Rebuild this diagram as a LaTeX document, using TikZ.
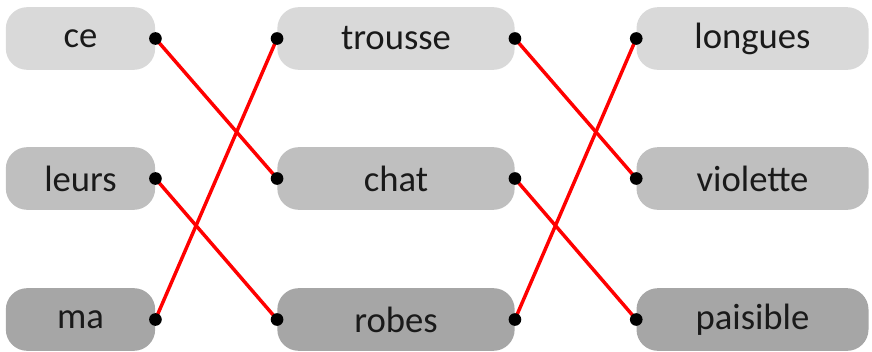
\documentclass[tikz,border=0pt]{standalone}
\usepackage{fontspec}
\setmainfont{Carlito}
\definecolor{boxA}{HTML}{D9D9D9}
\definecolor{boxB}{HTML}{BFBFBF}
\definecolor{boxC}{HTML}{A6A6A6}
\definecolor{ink}{HTML}{1A1A1A}
\tikzset{
  word/.style={rounded corners=16pt, minimum height=47pt, inner sep=0pt, text=ink, font=\fontsize{27.5}{30}\selectfont},
  narrow/.style={word, minimum width=112pt},
  wide/.style={word, minimum width=178pt},
  link/.style={red, line width=2.6pt},
  dot/.style={circle, fill=black, inner sep=0pt, minimum size=9.5pt}
}
\begin{document}
\begin{tikzpicture}[line cap=round,line join=round,x=0.75pt,y=-0.75pt]
\useasboundingbox (0,0) rectangle (872,351);
\node [narrow, fill=boxA] (ce) at (80.5,38.5) {ce};
\node [narrow, fill=boxB] (leurs) at (80.5,178.5) {leurs};
\node [narrow, fill=boxC] (ma) at (80.5,319.5) {ma};

\node [wide, fill=boxA] (trousse) at (396,38.5) {trousse};
\node [wide, fill=boxB] (chat) at (396,178.5) {chat};
\node [wide, fill=boxC] (robes) at (396,319.5) {robes};

\node [wide, minimum width=174pt, fill=boxA] (longues) at (752.5,38.5) {longues};
\node [wide, minimum width=174pt, fill=boxB] (violette) at (752.5,178.5) {violette};
\node [wide, minimum width=174pt, fill=boxC] (paisible) at (752.5,319.5) {paisible};

\draw [link] (ce.east)--(chat.west);
\draw [link] (leurs.east)--(robes.west);
\draw [link] (ma.east)--(trousse.west);
\draw [link] (trousse.east)--(violette.west);
\draw [link] (chat.east)--(paisible.west);
\draw [link] (robes.east)--(longues.west);

\foreach \n in {ce,leurs,ma,trousse,chat,robes}
  \node [dot] at (\n.east) {};
\foreach \n in {trousse,chat,robes,longues,violette,paisible}
  \node [dot] at (\n.west) {};
\end{tikzpicture}
\end{document}
